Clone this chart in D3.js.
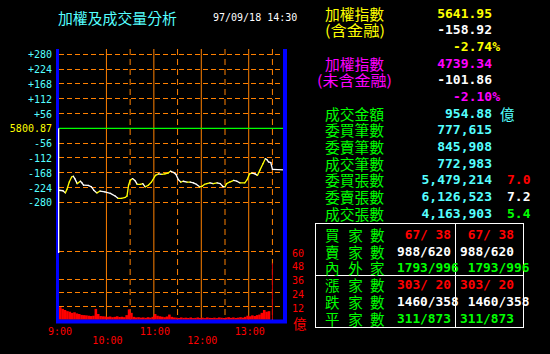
<!DOCTYPE html>
<html><head><meta charset="utf-8">
<script src="https://cdn.jsdelivr.net/npm/d3@7"></script>
<style>
html,body{margin:0;padding:0;background:#000;}
svg{display:block;}
text{white-space:pre;}
</style></head>
<body>
<svg id="c" width="550" height="354"></svg>
<script>
// ---------- data ----------
const title = "加權及成交量分析";
const dateText = "97/09/18 14:30";
const prevClose = "5800.87";
const indexTicks = [280, 224, 168, 112, 56, 0, -56, -112, -168, -224, -280];
const volumeTicks = [60, 48, 36, 24, 12];
const volumeGrid = [60, 36, 24, 12];
const timeLabels = ["9:00", "10:00", "11:00", "12:00", "13:00"];
const timeLabelMinutes = [0, 60, 120, 180, 240];
const solidTimeLines = [60, 120, 180, 240];
const dashedTimeLines = [90, 150, 210, 270];

// index change vs previous close, minutes after 9:00
const lineMinutes = [0,5,8,10,13,16,18,20,23,27,29,31,37,41,44,48,52,58,65,71,75,79,84,86,88,90,93,96,99,103,106,109,113,117,122,126,130,134,138,141,145,148,151,154,157,162,166,170,174,178,181,184,187,191,195,200,204,207,210,212,216,221,225,229,235,238,241,244,248,251,254,258,261,263,265,268,270,284];
const lineValues = [-234,-236,-244,-231,-203,-184,-181,-190,-209,-200,-206,-215,-216,-221,-234,-244,-237,-240,-246,-256,-265,-265,-261,-256,-215,-197,-190,-197,-212,-212,-209,-221,-215,-203,-178,-172,-174,-172,-169,-162,-167,-174,-194,-203,-200,-203,-203,-206,-212,-221,-219,-212,-209,-206,-209,-206,-209,-219,-221,-209,-203,-197,-200,-206,-206,-194,-172,-169,-172,-178,-159,-134,-115,-118,-127,-130,-155,-157];

// volume (億) per 3-minute interval starting at 9:00
const volumeValues = [11,9.5,8.5,7.5,7,6,6.5,5.5,5,4.2,4,3.8,3.5,3.2,3.5,9.5,5,3.2,3,2.8,2.5,2.8,2.2,2.5,3,2.4,2.6,2.2,4,9,6,2.5,2,2.2,1.8,2,1.6,2.2,1.8,2.5,5,3.5,3,2.6,2.2,2.8,4.5,2.5,2,1.8,1.5,2,1.6,1.8,1.5,2,1.4,1.6,2,1.5,1.8,1.4,2,1.6,1.5,1.8,1.4,2,1.7,1.5,1.8,2.2,1.6,2,1.5,1.8,2.2,1.8,2.5,3.5,3,3.8,3.2,4,4.5,6,8.5,7,7.5];
const volumeStep = 3;
const closingVolumeMinute = 270;
const closingVolume = 49.5;

const idxLabels = ["加權指數", "(含金融)", "加權指數", "(未含金融)"];
const idxValues = ["5641.95", "-158.92", "4739.34", "-101.86"];
const idxPercents = ["-2.74%", "-2.10%"];
const statLabels = ["成交金額","委買筆數","委賣筆數","成交筆數","委買張數","委賣張數","成交張數"];
const statValues = ["954.88","777,615","845,908","772,983","5,479,214","6,126,523","4,163,903"];
const ratioValues = ["7.0","7.2","5.4"];
const tableLabels = ["買家數","賣家數","內外家","漲家數","跌家數","平家數"];
const tableCol1 = [" 67/ 38","988/620","1793/996","303/ 20","1460/358","311/873"];
const tableCol2 = [" 67/ 38","988/620"," 1793/996","303/ 20"," 1460/358","311/873"];

// ---------- styles ----------
const C = {bg:"#000", blue:"#0000ff", orange:"#ff8000", green:"#00ff00", cyan:"#55ffff",
  yellow:"#ffff00", white:"#ffffff", red:"#ff0000", magenta:"#ff00ff", darkred:"#cc0000"};
const MONO = "'DejaVu Sans Mono', monospace";
const CJK = "'Noto Sans CJK TC', 'Noto Sans CJK SC', sans-serif";
const CJK_SIZE = 14.5;

const svg = d3.select("#c");
svg.append("rect").attr("width",550).attr("height",354).attr("fill",C.bg);

const x = d3.scaleLinear().domain([0, 284]).range([59, 283.5]);
const y = d3.scaleLinear().domain([-280, 280]).range([202.4, 54.3]);
const v = d3.scaleLinear().domain([0, 60]).range([319.7, 251.3]);

// ---------- grid ----------
const g = svg.append("g");
g.selectAll(".hg").data(indexTicks.filter(d => d !== 0)).join("line")
  .attr("x1", 59).attr("x2", 283).attr("y1", d => y(d)).attr("y2", d => y(d))
  .attr("stroke", C.orange).attr("stroke-width", 1).attr("stroke-dasharray", "5,3")
  .attr("shape-rendering","crispEdges");
g.selectAll(".vg").data(volumeGrid).join("line")
  .attr("x1", 59).attr("x2", 283).attr("y1", d => Math.round(v(d))+0.5).attr("y2", d => Math.round(v(d))+0.5)
  .attr("stroke", C.orange).attr("stroke-width", 1).attr("stroke-dasharray", "5,3");
g.selectAll(".ts").data(solidTimeLines).join("line")
  .attr("x1", d => x(d)).attr("x2", d => x(d)).attr("y1", 49).attr("y2", 320)
  .attr("stroke", C.orange).attr("stroke-width", 1);
g.selectAll(".td").data(dashedTimeLines).join("line")
  .attr("x1", d => x(d)).attr("x2", d => x(d)).attr("y1", 49).attr("y2", 320)
  .attr("stroke", C.orange).attr("stroke-width", 1).attr("stroke-dasharray", "6,4");
// zero line (previous close)
g.append("line").attr("x1", 59).attr("x2", 283).attr("y1", y(0)).attr("y2", y(0))
  .attr("stroke", C.green).attr("stroke-width", 1.2);

// ---------- volume ----------
svg.append("g").selectAll("rect").data(volumeValues).join("rect")
  .attr("x", (d,i) => x(i*volumeStep))
  .attr("width", (d,i) => x((i+1)*volumeStep) - x(i*volumeStep) + 0.2)
  .attr("y", d => v(d)).attr("height", d => v(0) - v(d))
  .attr("fill", C.red);
svg.append("line").attr("x1", x(closingVolumeMinute)).attr("x2", x(closingVolumeMinute))
  .attr("y1", v(closingVolume)).attr("y2", v(0)).attr("stroke", C.darkred).attr("stroke-width", 1);

// ---------- index line (yellow rising, white falling) ----------
const pts = lineMinutes.map((m,i) => [m, lineValues[i]]);
const segs = pts.slice(1).map((p,i) => ({a: pts[i], b: p}));
svg.append("g").selectAll("line").data(segs).join("line")
  .attr("x1", d => x(d.a[0])).attr("y1", d => y(d.a[1]))
  .attr("x2", d => x(d.b[0])).attr("y2", d => y(d.b[1]))
  .attr("stroke", d => d.b[1] >= d.a[1] ? C.yellow : C.white)
  .attr("stroke-width", 1.3).attr("stroke-linecap","round");

// ---------- frame ----------
svg.append("rect").attr("x",56).attr("y",49).attr("width",3).attr("height",274).attr("fill",C.blue);
svg.append("rect").attr("x",283).attr("y",49).attr("width",4).attr("height",274).attr("fill",C.blue);
svg.append("rect").attr("x",56).attr("y",319.5).attr("width",231).attr("height",4).attr("fill",C.blue);
svg.append("rect").attr("x",58).attr("y",y(0)).attr("width",1.3).attr("height",253 - y(0)).attr("fill",C.white);

// ---------- axes labels ----------
const idxAxis = d3.axisLeft(y).tickValues(indexTicks).tickSize(0).tickPadding(0)
  .tickFormat(d => d === 0 ? prevClose : (d > 0 ? "+" + d : "" + d));
const ia = svg.append("g").attr("transform","translate(52,0)").call(idxAxis);
ia.select(".domain").remove();
ia.selectAll("text").attr("font-family", MONO).attr("font-size", 10)
  .attr("fill", d => d === 0 ? C.yellow : C.cyan).attr("dy","0.35em").attr("x",0).attr("text-anchor","end");

const volAxis = d3.axisRight(v).tickValues(volumeTicks).tickSize(0).tickPadding(0);
const va = svg.append("g").attr("transform","translate(292,1.5)").call(volAxis);
va.select(".domain").remove();
va.selectAll("text").attr("font-family", MONO).attr("font-size", 10).attr("fill", C.red).attr("dy","0.35em").attr("x",0);
svg.append("text").attr("x",293).attr("y",322.5).attr("dominant-baseline","central")
  .attr("font-family",CJK).attr("font-size",13.5).attr("fill",C.red).text("億");

svg.append("g").selectAll("text").data(timeLabels).join("text")
  .attr("x", (d,i) => x(timeLabelMinutes[i]) + 1)
  .attr("y", (d,i) => i % 2 === 0 ? 331 : 340)
  .attr("text-anchor","middle").attr("dominant-baseline","central")
  .attr("font-family", MONO).attr("font-size", 10).attr("fill", C.red).text(d => d);

// ---------- header ----------
svg.append("text").attr("x",58).attr("y",17).attr("dominant-baseline","central")
  .attr("font-family",CJK).attr("font-size",CJK_SIZE).attr("fill",C.cyan)
  .attr("textLength",119).attr("lengthAdjust","spacingAndGlyphs").text(title);
svg.append("text").attr("x",213).attr("y",17).attr("dominant-baseline","central")
  .attr("font-family",MONO).attr("font-size",10).attr("fill",C.white).text(dateText);

// ---------- right panel ----------
const rp = svg.append("g");
function cjk(xp, yp, s, col, len) {
  const t = rp.append("text").attr("x",xp).attr("y",yp).attr("dominant-baseline","central")
    .attr("font-family",CJK).attr("font-size",CJK_SIZE).attr("fill",col).text(s);
  if (len) t.attr("textLength", len).attr("lengthAdjust","spacingAndGlyphs");
  return t;
}
function num(xp, yp, s, col, anchor, size) {
  return rp.append("text").attr("x",xp).attr("y",yp).attr("dominant-baseline","central")
    .attr("text-anchor", anchor || "end").attr("font-family",MONO).attr("font-weight","bold")
    .attr("font-size", size || 13).attr("fill",col).text(s);
}
const rowY = i => 13 + i * 16.67;
cjk(325, rowY(0), idxLabels[0], C.yellow, 59);
cjk(325, rowY(1), idxLabels[1], C.yellow, 60);
num(492, rowY(0), idxValues[0], C.yellow);
num(492, rowY(1), idxValues[1], C.white);
num(500, rowY(2), idxPercents[0], C.yellow);
cjk(325, rowY(3), idxLabels[2], C.magenta, 59);
cjk(317, rowY(4), idxLabels[3], C.magenta, 75);
num(492, rowY(3), idxValues[2], C.magenta);
num(492, rowY(4), idxValues[3], C.white);
num(500, rowY(5), idxPercents[1], C.magenta);

statLabels.forEach((s,i) => {
  cjk(325, rowY(6+i), s, C.green, 59);
  num(492, rowY(6+i), statValues[i], C.cyan);
});
cjk(500, rowY(6), "億", C.cyan);
const ratioColors = [C.red, C.white, C.green];
ratioValues.forEach((s,i) => num(530.5, rowY(10+i), s, ratioColors[i]));

// table
rp.append("rect").attr("x",315.5).attr("y",223.5).attr("width",208).attr("height",104)
  .attr("fill","none").attr("stroke",C.white).attr("stroke-width",1);
rp.append("line").attr("x1",455.5).attr("x2",455.5).attr("y1",223.5).attr("y2",327.5).attr("stroke",C.white);
rp.append("line").attr("x1",315.5).attr("x2",523.5).attr("y1",275.5).attr("y2",275.5).attr("stroke",C.white);
const tRowY = i => 234.3 + i * 16.75;
const tColors = [C.red, C.white, C.green, C.red, C.white, C.green];
const charX = [325, 348.3, 370];
tableLabels.forEach((s,i) => {
  Array.from(s).forEach((ch,j) => cjk(charX[j], tRowY(i), ch, C.green));
  num(397, tRowY(i), tableCol1[i], tColors[i], "start", 12.8);
  num(460, tRowY(i), tableCol2[i], tColors[i], "start", 12.8);
});
</script>
</body></html>
